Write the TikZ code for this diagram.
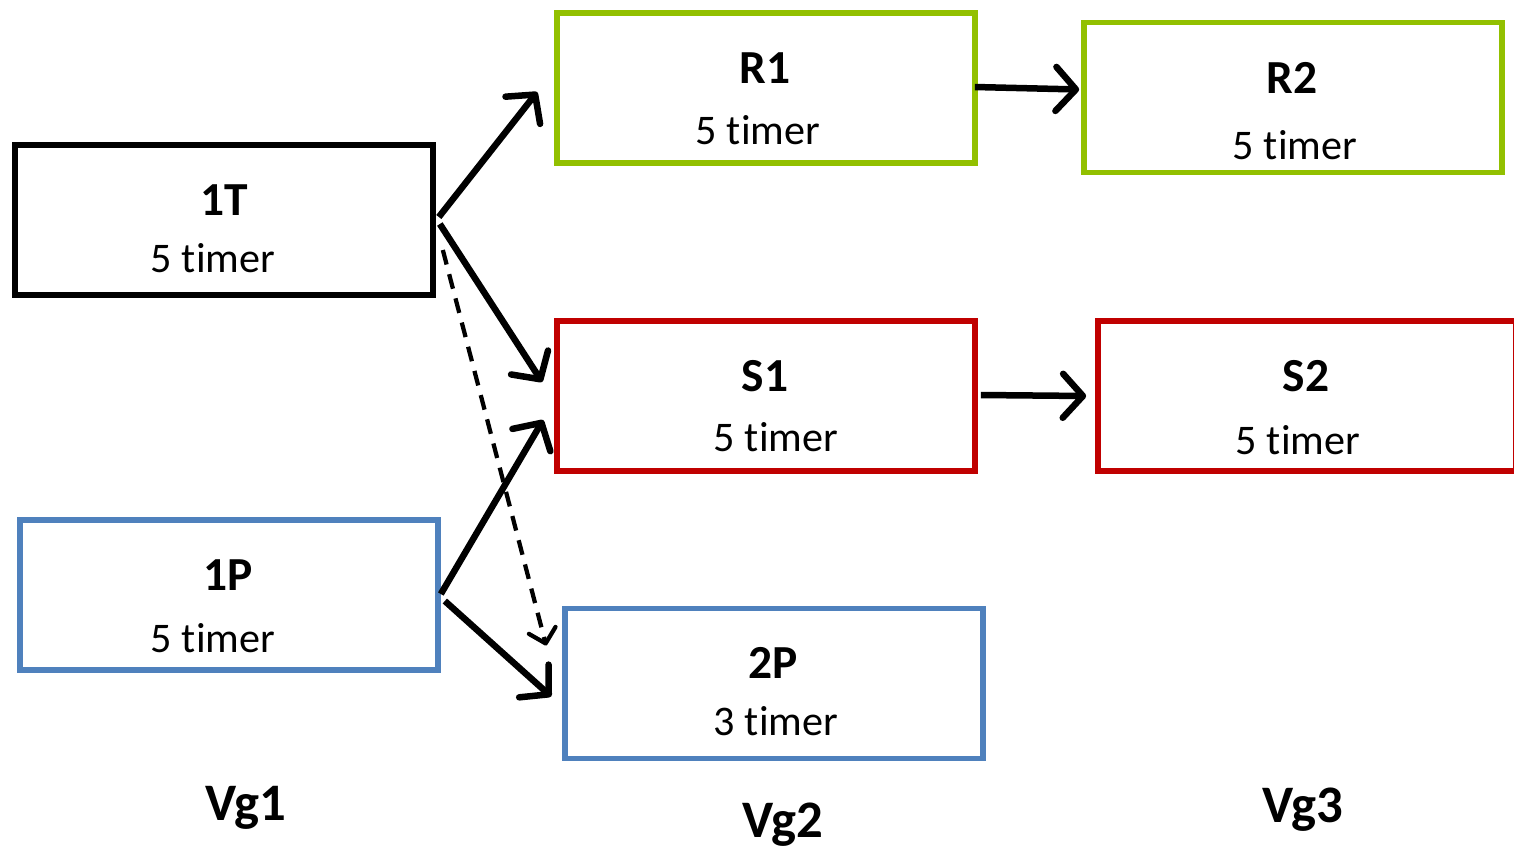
\documentclass[tikz,border=0pt]{standalone}
\usepackage{fontspec}
\setmainfont[Ligatures=NoCommon]{Carlito}
\usetikzlibrary{arrows.meta,calc}
\definecolor{cgreen}{RGB}{146,192,0}
\definecolor{cred}{RGB}{192,0,0}
\definecolor{cblue}{RGB}{79,129,189}
\begin{document}
\begin{tikzpicture}[x=0.02cm,y=-0.02cm,
  box/.style={draw,line width=0.115cm,minimum width=8.36cm,minimum height=3.0cm,inner sep=0pt},
  ttl/.style={font=\fontsize{27}{32}\selectfont\bfseries,inner sep=0pt},
  sub/.style={font=\fontsize{24}{29}\selectfont,inner sep=0pt},
  vg/.style={font=\fontsize{30}{36}\selectfont\bfseries,inner sep=0pt},
  arr/.style={line width=0.13cm,-{Straight Barb[length=0.4cm,width=0.88cm,round]}},
  darr/.style={line width=0.085cm,dash pattern=on 0.3cm off 0.2cm,-{Straight Barb[length=0.27cm,width=0.55cm,round]}}]
\useasboundingbox (0,0) rectangle (1514,849);
\fill[white] (0,0) rectangle (1514,849);
\node[box,draw=black] (T1) at (224,220) {};
\node[box,draw=cblue] (P1) at (229,595) {};
\node[box,draw=cgreen] (R1) at (766,88) {};
\node[box,draw=cgreen] (R2) at (1293,97.5) {};
\node[box,draw=cred] (S1) at (766,396) {};
\node[box,draw=cred] (S2) at (1307,396) {};
\node[box,draw=cblue] (P2) at (774,683.5) {};
\node[ttl] (T1t) at (224,200) {1T};
\node[sub] (T1s) at (213,258) {5 timer};
\node[ttl] (P1t) at (228,575) {1P};
\node[sub] (P1s) at (213,638) {5 timer};
\node[ttl] (R1t) at (765,68) {R1};
\node[sub] (R1s) at (758,130) {5 timer};
\node[ttl] (R2t) at (1292,78) {R2};
\node[sub] (R2s) at (1295,145) {5 timer};
\node[ttl] (S1t) at (765,376) {S1};
\node[sub] (S1s) at (776,437) {5 timer};
\node[ttl] (S2t) at (1306,376) {S2};
\node[sub] (S2s) at (1298,440) {5 timer};
\node[ttl] (P2t) at (773,663) {2P};
\node[sub] (P2s) at (776,721) {3 timer};
\node[vg] (V1) at (246,808) {Vg1};
\node[vg] (V2) at (783,825) {Vg2};
\node[vg] (V3) at (1303,810) {Vg3};
\draw[arr] ($(T1.east)+(3,-3)$) -- ($(R1.west)+(-17,4)$);
\draw[arr] ($(T1.east)+(4,4)$) -- ($(S1.west)+(-12,-14)$);
\draw[darr] ($(T1.east)+(7,30)$) -- ($(P2.west)+(-16,-38)$);
\draw[arr] ($(P1.east)+(0,-1)$) -- ($(S1.west)+(-11,24)$);
\draw[arr] ($(P1.east)+(4,6)$) -- ($(P2.west)+(-11,13)$);
\draw[arr] ($(R1.east)+(-3,-1)$) -- ($(R2.west)+(-2,-8)$);
\draw[arr] ($(S1.east)+(3,-1)$) -- ($(S2.west)+(-9,0)$);
\end{tikzpicture}
\end{document}
